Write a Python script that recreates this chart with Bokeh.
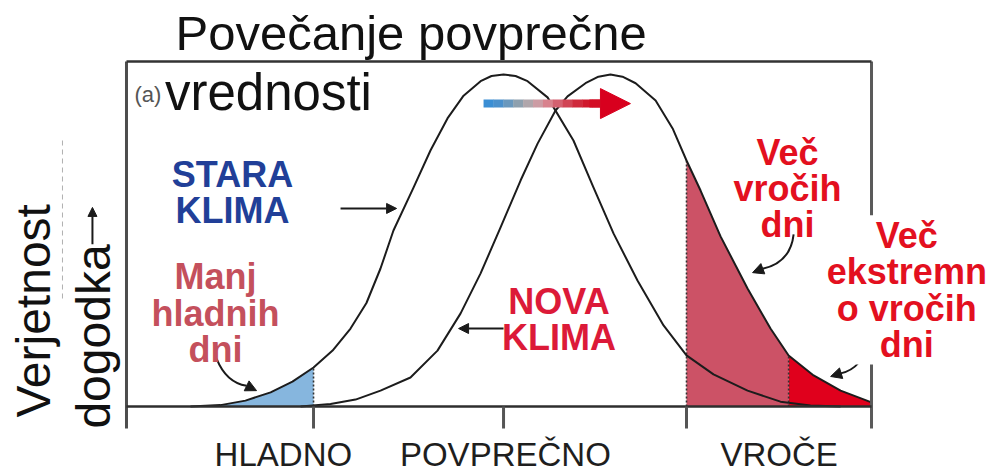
import math
from bokeh.plotting import figure
from bokeh.models import Range1d, Label, Arrow, NormalHead
from bokeh.embed import file_html
from bokeh.resources import INLINE

# ---------------- data ----------------
# x: temperature (units of ~1 std), y: probability density (peak ~0.96)
old_x = [-1.692, -1.530, -1.395, -1.259, -1.141, -1.027, -0.924, -0.827, -0.741, -0.665,
         -0.595, -0.486, -0.395, -0.303, -0.216, -0.124, -0.065, 0.0, 0.065, 0.130, 0.238, 0.378,
         0.486, 0.595, 0.724, 0.865, 0.989, 1.135, 1.319, 1.497, 1.659, 1.822]
old_y = [0.0, 0.004, 0.017, 0.041, 0.072, 0.113, 0.162, 0.226, 0.300, 0.400,
         0.510, 0.635, 0.742, 0.835, 0.901, 0.943, 0.958, 0.962, 0.958, 0.943, 0.896, 0.771,
         0.635, 0.501, 0.365, 0.235, 0.148, 0.093, 0.046, 0.014, 0.003, 0.0]

new_x = [-1.097, -0.935, -0.800, -0.665, -0.503, -0.357, -0.232, -0.124, -0.016, 0.092,
         0.184, 0.281, 0.346, 0.443, 0.513, 0.578, 0.643, 0.714, 0.822, 0.914, 0.989, 1.065,
         1.173, 1.319, 1.443, 1.541, 1.676, 1.822, 1.989]
new_y = [0.0, 0.007, 0.020, 0.046, 0.084, 0.162, 0.270, 0.386, 0.519, 0.655,
         0.762, 0.858, 0.899, 0.937, 0.956, 0.962, 0.956, 0.937, 0.887, 0.806, 0.713, 0.626,
         0.493, 0.342, 0.226, 0.148, 0.090, 0.046, 0.012]

cold_limit = -1.027
old_mean = 0.0
hot_limit = 0.989
extreme_limit = 1.541
new_mean = 0.578
tick_values = [cold_limit, old_mean, hot_limit]

categories = ["HLADNO", "POVPREČNO", "VROČE"]
category_x = [-1.19, 0.01, 1.49]

# ---------------- layout constants (data units) ----------------
FRAME_L, FRAME_R = -2.038, 1.989      # box left / right edges
FRAME_T, FRAME_B = 1.0, -0.0638       # box top / tick bottom
FONT = "Liberation Sans"
PX = 1 / 345.0                        # one pixel in y data units

p = figure(width=997, height=476, x_range=Range1d(-2.719, 2.670),
           y_range=Range1d(-0.2029, 1.1768), output_backend="svg",
           toolbar_location=None, x_axis_location=None, y_axis_location=None,
           min_border=0)
p.grid.visible = False
p.outline_line_color = None
p.background_fill_color = "white"
p.border_fill_color = "white"

# ---------------- shaded tails ----------------
cold_x = [x for x in old_x if x <= cold_limit]
cold_y = [y for x, y in zip(old_x, old_y) if x <= cold_limit]
hot_x = [x for x in new_x if hot_limit <= x <= extreme_limit]
hot_y = [y for x, y in zip(new_x, new_y) if hot_limit <= x <= extreme_limit]
ext_x = [x for x in new_x if x >= extreme_limit]
ext_y = [y for x, y in zip(new_x, new_y) if x >= extreme_limit]

p.varea(x=cold_x, y1=[0] * len(cold_x), y2=cold_y, fill_color="#86b6de")
p.varea(x=hot_x, y1=[0] * len(hot_x), y2=hot_y, fill_color="#cc5266")
p.varea(x=ext_x, y1=[0] * len(ext_x), y2=ext_y, fill_color="#e0001c")

# dotted limits
lim_x = [cold_limit, hot_limit, extreme_limit]
lim_top = [old_y[old_x.index(cold_limit)], new_y[new_x.index(hot_limit)],
           new_y[new_x.index(extreme_limit)]]
p.segment(x0=lim_x, y0=[0] * 3, x1=lim_x, y1=lim_top, line_color="#333333",
          line_width=1.6, line_dash="2 2")

# curves
p.line(old_x, old_y, line_color="#1c1c1c", line_width=2, line_join="round")
p.line(new_x, new_y, line_color="#1c1c1c", line_width=2, line_join="round")

# box, baseline and ticks
p.segment(x0=[FRAME_L], y0=[FRAME_B], x1=[FRAME_L], y1=[FRAME_T], line_color="#4d4d4d", line_width=3)
p.segment(x0=[FRAME_R], y0=[FRAME_B], x1=[FRAME_R], y1=[FRAME_T], line_color="#5a5a5a", line_width=3)
p.segment(x0=[FRAME_L], y0=[FRAME_T], x1=[FRAME_R], y1=[FRAME_T], line_color="#333333", line_width=2.5)
p.segment(x0=[FRAME_L], y0=[0], x1=[FRAME_R], y1=[0], line_color="#2e2e2e", line_width=2.5)
p.segment(x0=tick_values, y0=[0] * 3, x1=tick_values, y1=[FRAME_B] * 3,
          line_color="#555555", line_width=3)

# ---------------- shift arrow (blue -> red) ----------------
shift_y = 0.878
shaft_start = old_mean - 0.108
head_base = new_mean - 0.064
tip = new_mean + 0.108
grad = ["#3a8ed4", "#4a90cc", "#6a98bd", "#8ea0ae", "#b0a6ab", "#cc9ca4",
        "#d8828d", "#d46170", "#d14454", "#cf2a3c", "#d0182c", "#d30d24"]
n = len(grad)
step = (head_base + 0.02 - shaft_start) / n
p.segment(x0=[shaft_start + i * step for i in range(n)], y0=[shift_y] * n,
          x1=[shaft_start + (i + 1) * step + 0.002 for i in range(n)], y1=[shift_y] * n,
          line_color=grad, line_width=8, line_cap="butt")
p.add_layout(Arrow(x_start=head_base - 0.05, y_start=shift_y, x_end=tip, y_end=shift_y,
                   line_color="#d30d24", line_width=8,
                   end=NormalHead(size=30, fill_color="#d8001e", line_color="#d8001e")))


# ---------------- pointer arrows ----------------
def straight_arrow(x0, y0, x1, y1, size=10):
    p.add_layout(Arrow(x_start=x0, y_start=y0, x_end=x1, y_end=y1, line_color="#1a1a1a",
                       line_width=2, end=NormalHead(size=size, fill_color="#1a1a1a",
                                                    line_color="#1a1a1a")))


straight_arrow(-0.881, 0.574, -0.578, 0.574)   # STARA KLIMA
straight_arrow(0.0, 0.226, -0.243, 0.226)      # NOVA KLIMA

curves = [  # (start, control, end, head-start)
    ((-1.551, 0.139), (-1.500, 0.070), (-1.335, 0.046), (-1.389, 0.060)),
    ((1.568, 0.499), (1.551, 0.417), (1.346, 0.388), (1.400, 0.399)),
    ((1.975, 0.191), (1.941, 0.110), (1.768, 0.087), (1.822, 0.096)),
]
for s, c, e, h in curves:
    p.quadratic(x0=[s[0]], y0=[s[1]], x1=[h[0]], y1=[h[1]], cx=[c[0]], cy=[c[1]],
                line_color="#1a1a1a", line_width=2)
    straight_arrow(h[0], h[1], e[0], e[1], size=11)


# ---------------- texts ----------------
def label(text, x, y, size, color, bold=False, align="left", baseline="alphabetic",
          angle=0, bg=None, lh=0.88):
    lab = Label(x=x, y=y, text=text, text_font=FONT, text_font_size=f"{size}px",
                text_color=color, text_font_style="bold" if bold else "normal",
                text_align=align, text_baseline=baseline, angle=angle,
                text_line_height=lh)
    if bg:
        lab.background_fill_color = bg
    p.add_layout(lab)


def line_label(text, x, y, size, color, **kw):
    # y is the baseline of the text; Bokeh draws it ~0.36 em lower, so lift it
    label(text, x, y + 0.36 * size * PX, size, color, **kw)


line_label("Povečanje povprečne", -1.773, 1.032, 49, "#111111")
line_label("(a)", -1.995, 0.881, 22, "#555555")
line_label("vrednosti", -1.83, 0.858, 51, "#111111")

label("Verjetnost", -2.541, -0.032, 48, "#111111", angle=math.pi / 2)
label("dogodka", -2.216, -0.064, 48, "#111111", angle=math.pi / 2)
p.add_layout(Arrow(x_start=-2.222, y_start=0.470, x_end=-2.222, y_end=0.577,
                   line_color="#1a1a1a", line_width=2,
                   end=NormalHead(size=9, fill_color="#1a1a1a", line_color="#1a1a1a")))
p.add_layout(Arrow(x_start=-2.384, y_start=0.771, x_end=-2.384, y_end=0.307,
                   line_color="#b0b0b0", line_width=1, line_dash="5 4", end=None))

label("STARA\nKLIMA", -1.465, 0.733, 36, "#213f98", bold=True, align="center", baseline="top")
label("Manj\nhladnih\ndni", -1.557, 0.435, 36, "#c4505c", bold=True, align="center", baseline="top")
label("NOVA\nKLIMA", 0.30, 0.365, 36, "#dc1a38", bold=True, align="center", baseline="top")
label("Več\nvročih\ndni", 1.535, 0.797, 36, "#e3101f", bold=True, align="center", baseline="top")
label("Več\nekstremn\no vročih\ndni", 2.18, 0.554, 36, "#e3101f", bold=True, align="center",
      baseline="top", bg="white")

for name, cx in zip(categories, category_x):
    line_label(name, cx, -0.174, 33, "#1e1e1e", align="center")

open("out.html", "w").write(file_html(p, INLINE))
